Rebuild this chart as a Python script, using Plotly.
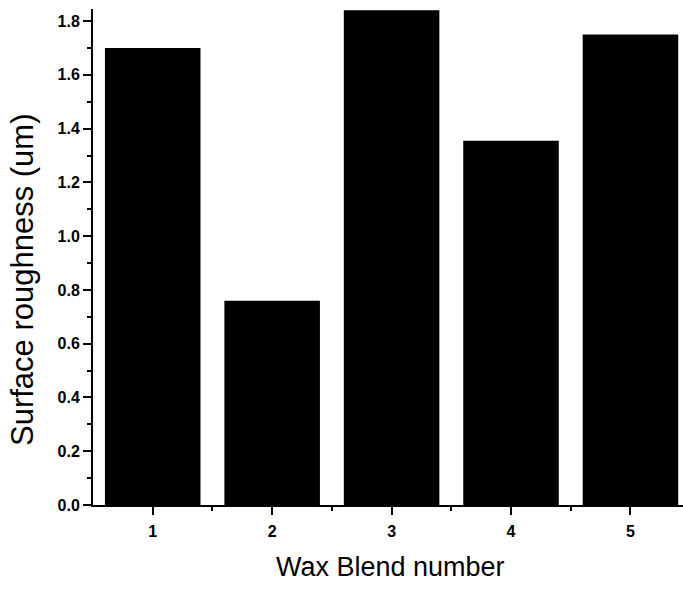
import plotly.graph_objects as go

blends = [1, 2, 3, 4, 5]
roughness = [1.70, 0.76, 1.84, 1.355, 1.75]
y_ticks = [0.0, 0.2, 0.4, 0.6, 0.8, 1.0, 1.2, 1.4, 1.6, 1.8]
y_tick_labels = ["0.0", "0.2", "0.4", "0.6", "0.8", "1.0", "1.2", "1.4", "1.6", "1.8"]
x_title = "Wax Blend number"
y_title = "Surface roughness (um)"

FONT = "Liberation Sans, Arial, sans-serif"

fig = go.Figure(go.Bar(
    x=blends, y=roughness, width=0.8,
    marker=dict(color="black", line=dict(width=0)),
))

fig.update_layout(
    width=683, height=589,
    margin=dict(l=93, r=0, t=9, b=84),
    paper_bgcolor="white", plot_bgcolor="white",
    showlegend=False,
    font=dict(family=FONT, color="black"),
    annotations=[
        dict(text=x_title, xref="paper", yref="paper", x=0.504, y=-0.125,
             xanchor="center", yanchor="middle", showarrow=False,
             font=dict(size=27, family=FONT, color="black")),
        dict(text=y_title, xref="paper", yref="paper", x=-0.1203, y=0.4536,
             xanchor="center", yanchor="middle", showarrow=False, textangle=-90,
             font=dict(size=31, family=FONT, color="black")),
    ],
)
fig.update_xaxes(
    range=[0.5, 5.44], tickvals=blends, ticktext=[str(b) for b in blends],
    showline=True, linecolor="black", linewidth=2, showgrid=False, zeroline=False,
    ticks="outside", ticklen=8, tickwidth=2, tickcolor="black",
    tickfont=dict(size=16, family=FONT, weight="bold"),
    ticklabelstandoff=3,
    minor=dict(tickvals=[1.5, 2.5, 3.5, 4.5], ticks="outside", ticklen=4, tickwidth=2, tickcolor="black"),
)
fig.update_yaxes(
    range=[0, 1.845], tickvals=y_ticks, ticktext=y_tick_labels,
    showline=True, linecolor="black", linewidth=2, showgrid=False, zeroline=False,
    ticks="outside", ticklen=8, tickwidth=2, tickcolor="black",
    tickfont=dict(size=16, family=FONT, weight="bold"),
    minor=dict(dtick=0.1, ticks="outside", ticklen=4, tickwidth=2, tickcolor="black", showgrid=False),
)

fig.write_html("out.html", config={"displayModeBar": False},
               post_script="document.body.style.margin='0';")
